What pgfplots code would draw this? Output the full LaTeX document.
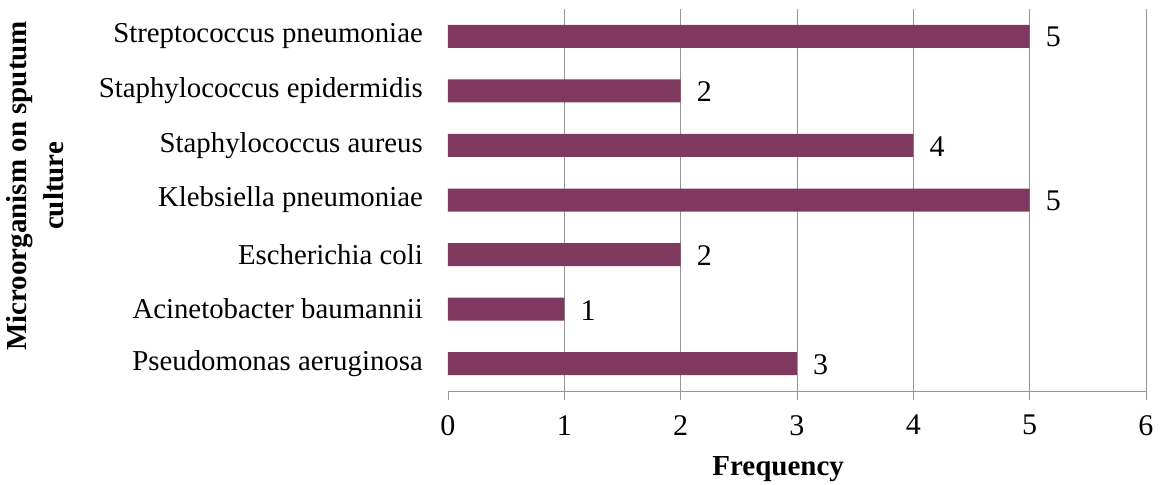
\documentclass[border=0pt]{standalone}
\usepackage{pgfplots}
\pgfplotsset{compat=1.18}
\usepackage{fontspec}
\setmainfont{Liberation Serif}
\definecolor{barc}{RGB}{128,57,94}
\definecolor{gridc}{RGB}{150,150,150}
\begin{document}
\begin{tikzpicture}
\begin{axis}[
  anchor=south west, at={(0pt,0pt)},
  scale only axis, width=698pt, height=382pt,
  xbar, bar width=23pt,
  xmin=0, xmax=6, ymin=-0.5, ymax=6.5,
  xtick={0,1,2,3,4,5,6},
  ytick={0,1,2,3,4,5,6},
  yticklabels={Pseudomonas aeruginosa, Acinetobacter baumannii, Escherichia coli, Klebsiella pneumoniae, Staphylococcus aureus, Staphylococcus epidermidis, Streptococcus pneumoniae},
  axis line style={draw=none},
  y tick style={draw=none},
  x tick style={draw=gridc, line width=0.8pt},
  tick align=outside, major tick length=9pt,
  xtick pos=bottom,
  /pgf/number format/assume math mode=true,
  xticklabel style={font=\fontsize{30}{34}\selectfont, anchor=north, inner sep=0pt, yshift=-15pt},
  yticklabel style={font=\fontsize{28.8}{34}\selectfont, anchor=east, inner sep=0pt, xshift=-16pt},
  nodes near coords,
  every node near coord/.append style={font=\fontsize{30}{34}\selectfont, anchor=west, inner sep=0pt, xshift=16pt, yshift=-1pt, text=black},
  clip=false,
]
\foreach \g in {1,...,6} {
  \edef\tmp{\noexpand\draw[gridc, line width=0.8pt] (axis cs:\g,-0.5) -- (axis cs:\g,6.5);}
  \tmp
}
\draw[gridc, line width=0.8pt] (axis cs:0,-0.5) -- (axis cs:6,-0.5);
\addplot[fill=barc, draw=none] coordinates {
  (3,0) (1,1) (2,2) (5,3) (4,4) (2,5) (5,6)
};
\node[rotate=90, align=center, font=\fontsize{29}{37}\selectfont\bfseries] at (axis description cs:-0.592,0.537) {Microorganism on sputum\\culture};
\node[font=\fontsize{29}{34}\selectfont\bfseries] at (axis description cs:0.473,-0.204) {Frequency};
\end{axis}
\path[use as bounding box] (-448pt,-90pt) rectangle (712pt,391pt);
\end{tikzpicture}
\end{document}
